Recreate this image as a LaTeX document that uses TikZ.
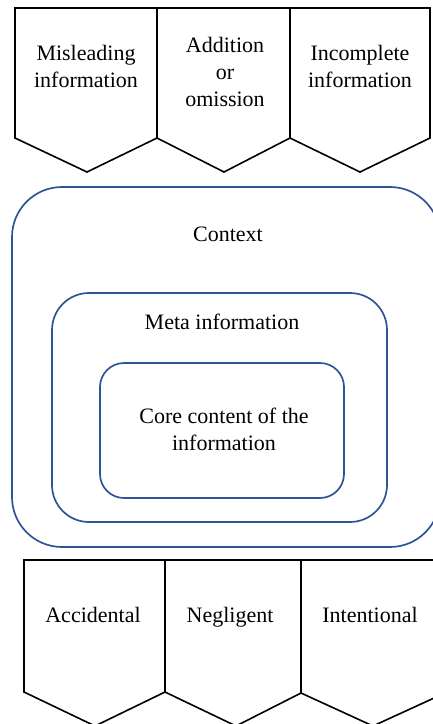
\documentclass[tikz,border=0pt]{standalone}
\usepackage{fontspec}
\setmainfont{Liberation Serif}
\usepackage{xcolor}
\usepackage{tikz}
\usetikzlibrary{positioning}
\definecolor{frameblue}{RGB}{47,84,150}

\begin{document}
\begin{tikzpicture}
[x=1pt, y=-1pt,
every node/.style={inner sep=0pt, align=center, text=black, font=\fontsize{22}{27}\selectfont},
banner/.style={line width=1.6pt, draw=black, fill=white, line join=miter},
layer/.style={rectangle, line width=1.7pt, draw=frameblue}]
\useasboundingbox (0,0) rectangle (433,724);
\clip (0,0) rectangle (433,724);
% kinds of fault (top row)
\draw [banner] (15,8) -- (157,8) -- (157,138) -- (87,172) -- (15,138) -- cycle;
\draw [banner] (157,8) -- (290,8) -- (290,138) -- (224,172) -- (157,138) -- cycle;
\draw [banner] (290,8) -- (430,8) -- (430,138) -- (360,172) -- (290,138) -- cycle;
\node (misleading) at (86,66) {Misleading\\information};
\node (addition) at (225,71.5) {Addition\\or\\omission};
\node (incomplete) at (360,66) {Incomplete\\information};
% nested layers
\node (context) [layer, rounded corners=50pt, minimum width=428pt, minimum height=360pt] at (226,367) {};
\node (meta) [layer, rounded corners=37pt, minimum width=335pt, minimum height=229pt] at (219.5,407.5) {};
\node (core) [layer, rounded corners=24pt, minimum width=244pt, minimum height=135pt] at (222,430.5) {};
\node (contextlabel) at (228,234) {Context};
\node (metalabel) at (222,322) {Meta information};
\node (corelabel) at (224,429) {Core content of the\\information};
% kinds of intent (bottom row)
\draw [banner] (24,560) -- (165,560) -- (165,692) -- (95,726) -- (24,692) -- cycle;
\draw [banner] (165,560) -- (301,560) -- (301,693) -- (236,726) -- (165,692) -- cycle;
\draw [banner] (301,560) -- (445,560) -- (445,693) -- (373,726) -- (301,693) -- cycle;
\node (accidental) [anchor=base] at (93,622) {Accidental};
\node (negligent) [anchor=base] at (230,622) {Negligent};
\node (intentional) [anchor=base] at (370,622) {Intentional};
\end{tikzpicture}
\end{document}
